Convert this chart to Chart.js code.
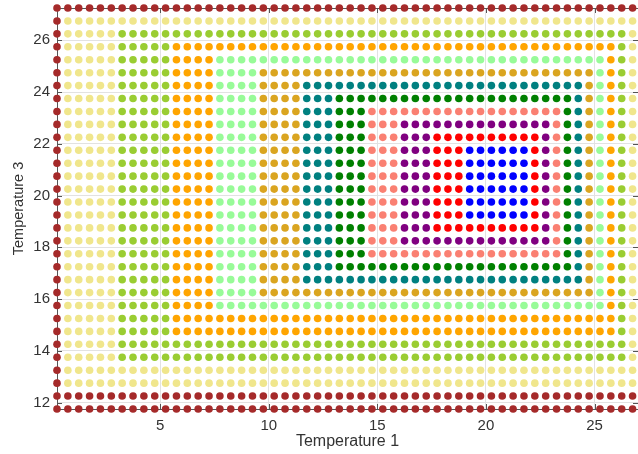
<!DOCTYPE html>
<html>
<head>
<meta charset="utf-8">
<script src="https://cdn.jsdelivr.net/npm/chart.js@4/dist/chart.umd.min.js"></script>
<style>
html,body{margin:0;padding:0;background:#fff;}
#wrap{width:638px;height:454px;position:relative;}
</style>
</head>
<body>
<div id="wrap"><canvas id="c"></canvas></div>
<script>
// Grid of sample positions (Temperature 1 / Temperature 3)
const xGrid = [0.25,0.75,1.25,1.75,2.25,2.75,3.25,3.75,4.25,4.75,5.25,5.75,6.25,6.75,7.25,7.75,8.25,8.75,9.25,9.75,10.25,10.75,11.25,11.75,12.25,12.75,13.25,13.75,14.25,14.75,15.25,15.75,16.25,16.75,17.25,17.75,18.25,18.75,19.25,19.75,20.25,20.75,21.25,21.75,22.25,22.75,23.25,23.75,24.25,24.75,25.25,25.75,26.25,26.75];
const yGrid = [11.75,12.25,12.75,13.25,13.75,14.25,14.75,15.25,15.75,16.25,16.75,17.25,17.75,18.25,18.75,19.25,19.75,20.25,20.75,21.25,21.75,22.25,22.75,23.25,23.75,24.25,24.75,25.25,25.75,26.25,26.75,27.25];

// Nested class regions, outermost to innermost (outside all = brown)
const ringColors = ['#F0E68C','#9ACD32','#FFA500','#98FB98','#DAA520','#008080','#008000','#FA8072','#800080','#FF0000','#0000FF'];
const ringXMin = [0.75, 3.25, 5.75, 7.75, 9.75, 11.75, 13.25, 14.75, 16.25, 17.75, 19.25];
const ringXMax = [26.75,26.25,25.75,25.25,24.75,24.25,23.75,23.25,22.75,22.25,21.75];
const ringYMin = [12.75,13.75,14.75,15.75,16.25,16.75,17.25,17.75,18.25,18.75,19.25];
const ringYMax = [26.75,26.25,25.75,25.25,24.75,24.25,23.75,23.25,22.75,22.25,21.75];
const outerColor = '#A52A2A';

const xTicks = [5,10,15,20,25];
const yTicks = [12,14,16,18,20,22,24,26];

// Build one dataset per class
const groups = [[]].concat(ringColors.map(()=>[]));
yGrid.forEach(yv=>{
  xGrid.forEach(xv=>{
    let k = 0;
    for (let r=0;r<ringColors.length;r++){
      if (xv>=ringXMin[r] && xv<=ringXMax[r] && yv>=ringYMin[r] && yv<=ringYMax[r]) k = r+1;
    }
    groups[k].push({x:xv,y:yv});
  });
});
const allColors = [outerColor].concat(ringColors);
const datasets = groups.map((pts,i)=>({
  data: pts,
  backgroundColor: allColors[i],
  borderWidth: 0,
  pointRadius: 3.8,
  pointHoverRadius: 3.8,
  clip: false
}));

const frame = {
  id:'frame',
  beforeDatasetsDraw(chart){
    const {ctx, chartArea:a, scales:{x,y}} = chart;
    ctx.save();
    ctx.strokeStyle = '#555';
    ctx.lineWidth = 1;
    ctx.beginPath();
    ctx.moveTo(a.left, a.top+0.5); ctx.lineTo(a.right, a.top+0.5);
    xTicks.forEach(v=>{
      const px = Math.round(x.getPixelForValue(v))+0.5;
      ctx.moveTo(px, a.bottom); ctx.lineTo(px, a.bottom-5);
      ctx.moveTo(px, a.top); ctx.lineTo(px, a.top+5);
    });
    yTicks.forEach(v=>{
      const py = Math.round(y.getPixelForValue(v))+0.5;
      ctx.moveTo(a.left, py); ctx.lineTo(a.left+5, py);
      ctx.moveTo(a.right, py); ctx.lineTo(a.right-5, py);
    });
    ctx.stroke();
    ctx.restore();
  }
};

const fam = "'Liberation Sans', Arial, Helvetica, sans-serif";
new Chart(document.getElementById('c'), {
  type: 'scatter',
  data: { datasets },
  options: {
    responsive: true,
    maintainAspectRatio: false,
    animation: false,
    events: [],
    layout: { autoPadding: false, padding: { top: 8, right: 0, bottom: 0, left: 0 } },
    plugins: { legend: { display: false }, tooltip: { enabled: false } },
    scales: {
      x: {
        type: 'linear', min: 0.25, max: 27,
        afterBuildTicks: s => { s.ticks = xTicks.map(v=>({value:v})); },
        afterFit: s => { s.height = 45; s.paddingLeft = 0; s.paddingRight = 0; },
        grid: { color: '#e2e2e2', drawTicks: false },
        border: { color: '#555', width: 1 },
        ticks: { font: { family: fam, size: 15 }, color: '#333', padding: 8, maxRotation: 0 },
        title: { display: true, text: 'Temperature 1', color: '#333', font: { family: fam, size: 16 }, padding: { top: 0, bottom: 3 } }
      },
      y: {
        type: 'linear', min: 11.75, max: 27.25,
        afterBuildTicks: s => { s.ticks = yTicks.map(v=>({value:v})); },
        afterFit: s => { s.width = 57; s.paddingTop = 0; s.paddingBottom = 0; },
        grid: { color: '#e2e2e2', drawTicks: false },
        border: { color: '#555', width: 1 },
        ticks: { font: { family: fam, size: 15 }, color: '#333', padding: 7 },
        title: { display: true, text: 'Temperature 3', color: '#333', font: { family: fam, size: 14.5 }, padding: { top: 10, bottom: 0 } }
      }
    }
  },
  plugins: [frame]
});
</script>
</body>
</html>
